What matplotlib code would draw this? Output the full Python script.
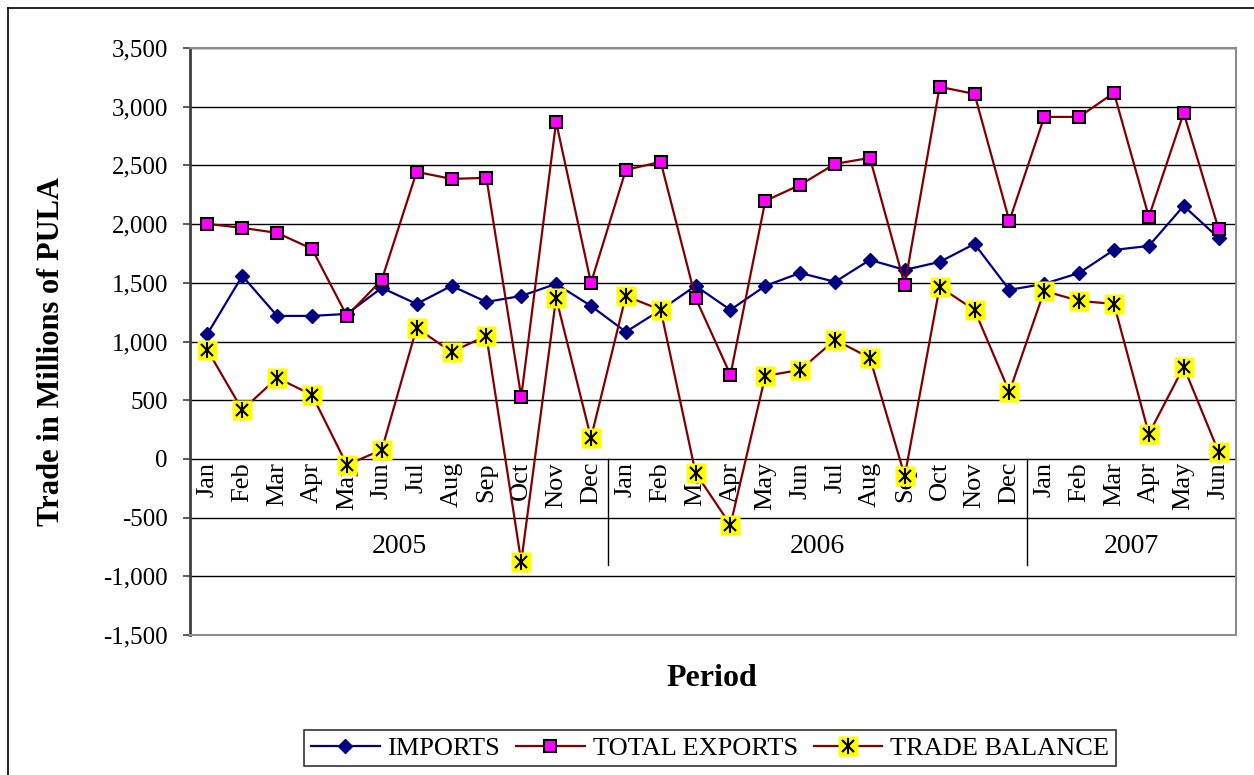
import matplotlib
matplotlib.use('Agg')
import matplotlib.pyplot as plt
from matplotlib.ticker import FuncFormatter, MultipleLocator
from matplotlib.lines import Line2D
from matplotlib.legend_handler import HandlerTuple
import matplotlib.transforms as mtransforms

plt.rcParams['font.family'] = ['Liberation Serif', 'DejaVu Serif']

# 数据: 2005年1月 - 2007年6月
years = ['2005', '2006', '2007']
months_per_year = [12, 12, 6]
month_names = ['Jan', 'Feb', 'Mar', 'Apr', 'May', 'Jun',
               'Jul', 'Aug', 'Sep', 'Oct', 'Nov', 'Dec']
months = month_names * 2 + month_names[:6]

imports = [1065, 1559, 1218, 1218, 1235, 1457, 1320, 1474, 1337, 1388, 1491, 1303,
           1082, 1269, 1474, 1269, 1474, 1584, 1508, 1695, 1610, 1678, 1831, 1440,
           1491, 1584, 1780, 1814, 2155, 1882]
total_exports = [2002, 1968, 1925, 1789, 1218, 1525, 2445, 2385, 2394, 528, 2871, 1499,
                 2462, 2530, 1371, 716, 2198, 2334, 2513, 2564, 1482, 3169, 3109, 2027,
                 2913, 2913, 3118, 2061, 2947, 1959]
trade_balance = [928, 417, 690, 545, -51, 77, 1116, 911, 1048, -877, 1371, 179,
                 1388, 1269, -119, -562, 707, 758, 1014, 860, -145, 1465, 1269, 571,
                 1431, 1346, 1320, 213, 784, 60]

x = list(range(len(months)))

W, H = 1254, 775
fig = plt.figure(figsize=(W / 100, H / 100), dpi=100)
ax = fig.add_axes([190 / W, 1 - 635 / H, (1236 - 190) / W, (635 - 48) / H])

# 外框
fig.add_artist(Line2D([8 / W, 8 / W], [0, 1 - 8 / H], color='black', lw=1.2))
fig.add_artist(Line2D([8 / W, 1], [1 - 8 / H, 1 - 8 / H], color='black', lw=1.2))

navy = '#000080'
darkred = '#800000'

# 进口
ax.plot(x, imports, color=navy, lw=1.6, marker='D', markersize=7,
        markerfacecolor=navy, markeredgecolor=navy, zorder=3)
# 总出口
ax.plot(x, total_exports, color=darkred, lw=1.6, marker='s', markersize=8,
        markerfacecolor='#FF00FF', markeredgecolor='black', markeredgewidth=1.5, zorder=4)
# 贸易差额
ax.plot(x, trade_balance, color=darkred, lw=1.6, zorder=5)
ax.plot(x, trade_balance, ls='none', marker='s', markersize=14,
        markerfacecolor='#FFFF00', markeredgecolor='none', zorder=6)
ax.plot(x, trade_balance, ls='none', marker='x', markersize=9,
        markeredgecolor='black', markeredgewidth=1.5, zorder=7)
ax.plot(x, trade_balance, ls='none', marker='|', markersize=11,
        markeredgecolor='black', markeredgewidth=1.5, zorder=7)

ax.set_xlim(-0.5, len(months) - 0.5)
ax.set_ylim(-1500, 3500)
ax.yaxis.set_major_locator(MultipleLocator(500))
ax.yaxis.set_major_formatter(FuncFormatter(lambda v, p: f'{v:,.0f}'))
ax.grid(axis='y', color='black', lw=1.0)
ax.set_axisbelow(True)
ax.tick_params(axis='y', direction='out', length=5, width=1.2, pad=11,
               labelsize=18, color='#404040')
ax.set_xticks([])

for side in ['top', 'right', 'bottom']:
    ax.spines[side].set_color('#8c8c8c')
    ax.spines[side].set_linewidth(1.5)
ax.spines['left'].set_color('#404040')
ax.spines['left'].set_linewidth(2)

# 分类轴标签(在 0 线下方)
offset = mtransforms.offset_copy(ax.transData, fig=fig, x=0, y=-3, units='dots')
for i, m in enumerate(months):
    ax.text(i, 0, m, rotation=90, ha='center', va='top', fontsize=19,
            transform=offset, zorder=2)

start = 0
for yr, n in zip(years, months_per_year):
    ax.text(start + (n - 1) / 2, -750, yr, ha='center', va='center', fontsize=20)
    end = start + n
    if end < len(months):
        ax.plot([end - 0.5, end - 0.5], [0, -900], color='black', lw=1.0, zorder=2)
    start = end

fig.text(52 / W, 1 - 352 / H, 'Trade in Millions of PULA', rotation=90,
         ha='center', va='center', fontsize=22, fontweight='bold')
fig.text(712 / W, 1 - 679 / H, 'Period', ha='center', va='center',
         fontsize=23, fontweight='bold')

# 图例
h_imp = Line2D([], [], color=navy, lw=1.6, marker='D', markersize=7,
               markerfacecolor=navy, markeredgecolor=navy)
h_exp = Line2D([], [], color=darkred, lw=1.6, marker='s', markersize=8,
               markerfacecolor='#FF00FF', markeredgecolor='black', markeredgewidth=1.5)
h_bal = (Line2D([], [], color=darkred, lw=1.6),
         Line2D([], [], ls='none', marker='s', markersize=14,
                markerfacecolor='#FFFF00', markeredgecolor='none'),
         Line2D([], [], ls='none', marker='x', markersize=9,
                markeredgecolor='black', markeredgewidth=1.5),
         Line2D([], [], ls='none', marker='|', markersize=11,
                markeredgecolor='black', markeredgewidth=1.5))
leg = fig.legend([h_imp, h_exp, h_bal], ['IMPORTS', 'TOTAL EXPORTS', 'TRADE BALANCE'],
                 loc='center', bbox_to_anchor=(710 / W, 1 - 748 / H), ncol=3,
                 fontsize=19, frameon=True, fancybox=False, edgecolor='black',
                 handlelength=2.6, handletextpad=0.3, columnspacing=0.6,
                 borderpad=0.25, handler_map={tuple: HandlerTuple(ndivide=1)})
leg.get_frame().set_linewidth(1.2)

fig.savefig('out.png', dpi=100)
